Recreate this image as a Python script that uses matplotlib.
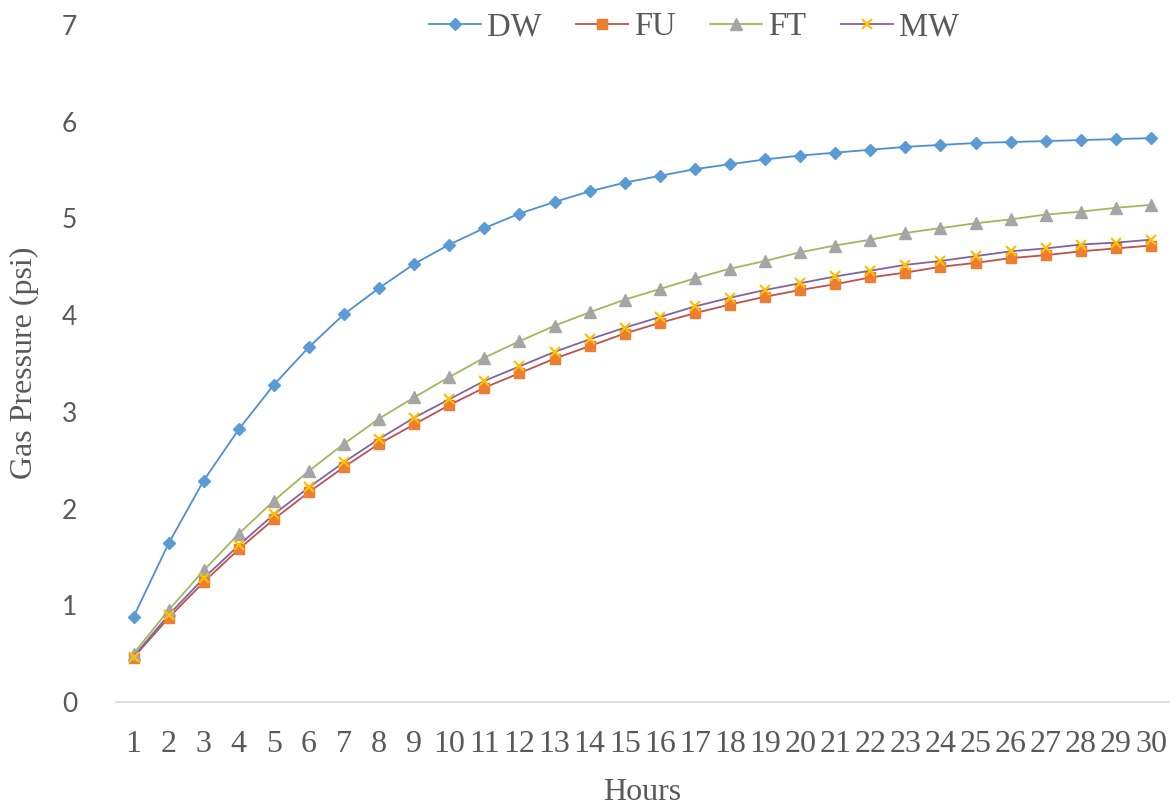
import matplotlib
matplotlib.use('Agg')
import matplotlib.pyplot as plt

hours = list(range(1, 31))

dw = [0.88, 1.64, 2.29, 2.82, 3.28, 3.67, 4.01, 4.28, 4.53, 4.73,
      4.90, 5.05, 5.17, 5.28, 5.37, 5.44, 5.51, 5.56, 5.61, 5.65,
      5.68, 5.71, 5.74, 5.76, 5.78, 5.79, 5.80, 5.81, 5.82, 5.83]
fu = [0.46, 0.87, 1.24, 1.58, 1.89, 2.17, 2.43, 2.67, 2.87, 3.07,
      3.25, 3.40, 3.55, 3.68, 3.81, 3.92, 4.02, 4.11, 4.19, 4.26,
      4.32, 4.39, 4.44, 4.50, 4.54, 4.59, 4.62, 4.66, 4.69, 4.72]
ft = [0.50, 0.95, 1.36, 1.74, 2.08, 2.39, 2.67, 2.93, 3.15, 3.36,
      3.56, 3.73, 3.89, 4.03, 4.16, 4.27, 4.38, 4.48, 4.56, 4.65,
      4.72, 4.78, 4.85, 4.90, 4.95, 4.99, 5.04, 5.07, 5.11, 5.14]
mw = [0.47, 0.90, 1.28, 1.62, 1.94, 2.22, 2.48, 2.72, 2.94, 3.13,
      3.32, 3.47, 3.62, 3.75, 3.87, 3.98, 4.09, 4.18, 4.26, 4.33,
      4.40, 4.46, 4.52, 4.56, 4.61, 4.66, 4.69, 4.73, 4.75, 4.78]

text_col = '#595959'
serif = 'Liberation Serif'

fig = plt.figure(figsize=(11.7, 8.08), dpi=100)
ax = fig.add_axes([116 / 1170, 1 - 702 / 808, (1168.5 - 116) / 1170, (702 - 25) / 808])

# line colour and marker colour differ per series, like the source
ax.plot(hours, dw, color='#4f8fd0', lw=1.3, marker='D', ms=6, mfc='#5B9BD5', mec='#5B9BD5', label='DW')
ax.plot(hours, fu, color='#c0504d', lw=1.3, marker='s', ms=7, mfc='#ED7D31', mec='#ED7D31', label='FU')
ax.plot(hours, ft, color='#9BBB59', lw=1.3, marker='^', ms=8.5, mfc='#A5A5A5', mec='#A5A5A5', label='FT')
ax.plot(hours, mw, color='#8064A2', lw=1.3, marker='x', ms=7.5, mew=1.6, mec='#FFC000', label='MW')

ax.set_xlim(0.5, 30.5)
ax.set_ylim(0, 7)
ax.set_xticks(hours)
ax.set_xticklabels([str(h) for h in hours], family=serif, fontsize=23, color=text_col)
ax.set_yticks(range(0, 8))
ax.set_yticklabels([str(v) for v in range(0, 8)], family='Lato', fontsize=19, color=text_col)
ax.tick_params(axis='both', length=0)
ax.tick_params(axis='x', pad=20)
ax.tick_params(axis='y', pad=28)

for s in ['top', 'right', 'left']:
    ax.spines[s].set_visible(False)
ax.spines['bottom'].set_color('#d9d9d9')
ax.spines['bottom'].set_linewidth(1.3)

fig.text(642 / 1170, 1 - 792 / 808, 'Hours', family=serif, fontsize=23, color=text_col,
         ha='center', va='center')
fig.text(24 / 1170, 1 - 363 / 808, 'Gas Pressure (psi)', family=serif, fontsize=23,
         color=text_col, ha='center', va='center', rotation=90)

leg = fig.legend(loc='center', bbox_to_anchor=(694 / 1170, 1 - 27 / 808), ncol=4, frameon=False,
                 prop={'family': serif, 'size': 23.5}, handlelength=1.6, handletextpad=0.18,
                 columnspacing=1.05, borderaxespad=0)
for t in leg.get_texts():
    t.set_color(text_col)

fig.savefig('out.png', dpi=100)
